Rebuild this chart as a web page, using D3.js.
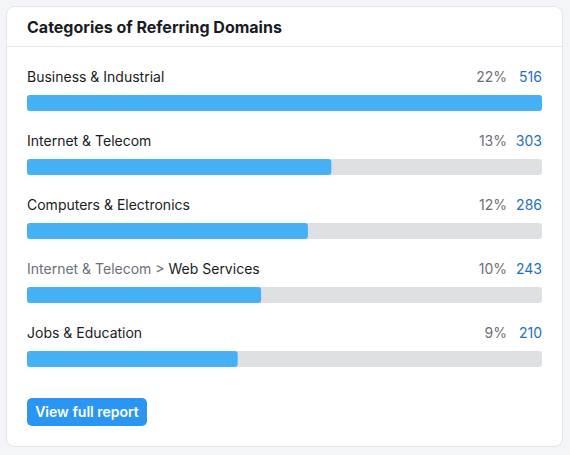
<!DOCTYPE html>
<html><head><meta charset="utf-8">
<script src="https://cdn.jsdelivr.net/npm/d3@7"></script>
<style>
html,body{margin:0;padding:0;background:#f4f5f9;}
svg{display:block;font-family:Inter, "Noto Sans", sans-serif;}
</style></head>
<body><svg id="c" width="570" height="455"></svg>
<script>
const categoryPrefix = ["", "", "", "Internet & Telecom > ", ""];
const categories = ["Business & Industrial", "Internet & Telecom", "Computers & Electronics", "Web Services", "Jobs & Education"];
const percents = [22, 13, 12, 10, 9];
const counts = [516, 303, 286, 243, 210];

const svg = d3.select("#c");
// card
svg.append("rect").attr("x",6.5).attr("y",6.5).attr("width",556).attr("height",440).attr("rx",8)
  .attr("fill","#fff").attr("stroke","#e3e4e8");
svg.append("line").attr("x1",7).attr("x2",562).attr("y1",46.5).attr("y2",46.5).attr("stroke","#e6e7eb");
svg.append("text").attr("x",27).attr("y",33).attr("font-size",16).attr("font-weight",700)
  .attr("fill","#191b23").text("Categories of Referring Domains");

const x = d3.scaleLinear().domain([0, d3.max(percents)]).range([27, 542]);
const y = d3.scaleBand().domain(d3.range(categories.length)).range([63, 383]).padding(0);

const rows = svg.selectAll("g.row").data(categories).join("g").attr("class","row")
  .attr("transform",(d,i)=>`translate(0,${y(i)})`);

rows.append("text").attr("x",27).attr("y",19).attr("font-size",14).attr("fill","#191b23")
  .each(function(d,i){
    const t=d3.select(this);
    if(categoryPrefix[i]) t.append("tspan").attr("fill","#6c6e79").text(categoryPrefix[i]);
    t.append("tspan").text(d);
  });
rows.append("text").attr("x",542).attr("y",19).attr("font-size",14).attr("text-anchor","end")
  .attr("fill","#1d6fc2").text((d,i)=>counts[i]);
rows.append("text").attr("x",507).attr("y",19).attr("font-size",14).attr("text-anchor","end")
  .attr("fill","#6c6e79").text((d,i)=>percents[i]+"%");
rows.append("rect").attr("x",x(0)).attr("y",32).attr("width",x(d3.max(percents))-x(0)).attr("height",16)
  .attr("rx",3).attr("fill","#dfe0e4");
rows.append("rect").attr("x",x(0)).attr("y",32).attr("width",(d,i)=>x(percents[i])-x(0)).attr("height",16)
  .attr("rx",3).attr("fill","#45b0f6");

// button
svg.append("rect").attr("x",27).attr("y",398).attr("width",120).attr("height",28).attr("rx",5).attr("fill","#2b96f1");
svg.append("text").attr("x",87).attr("y",417).attr("text-anchor","middle").attr("font-size",14)
  .attr("font-weight",600).attr("fill","#fff").text("View full report");
</script></body></html>
